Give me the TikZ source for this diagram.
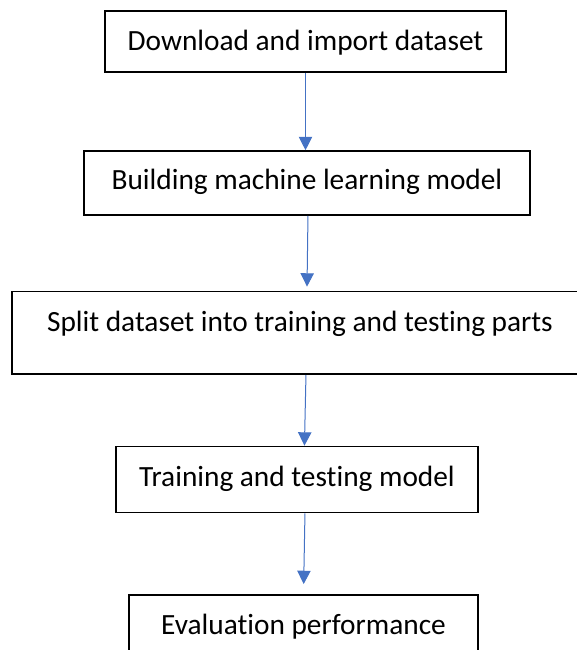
\documentclass[tikz,border=0pt]{standalone}
\usepackage{fontspec}
\setmainfont{Carlito}[Ligatures=NoCommon]
\usepackage{tikz}
\usetikzlibrary{arrows.meta, positioning}

\definecolor{officeblue}{RGB}{68,114,196}

\begin{document}
\begin{tikzpicture}[
    x=0.75pt, y=-0.75pt,
    procbox/.style={draw, line width=1.3pt, inner sep=0pt, text height=14.2pt, text depth=4.2pt, font=\fontsize{22}{26}\selectfont},
    flowline/.style={draw=officeblue, line width=0.75pt, -{Triangle[length=10pt, width=10pt]}}
]
\useasboundingbox (0,0) rectangle (576,650);

% Download step (top)
\node[procbox, text depth=0pt, minimum width=300.75pt, minimum height=45.75pt] (dl) at (305.5,41.5) {Download and import dataset};

% Model building
\node[procbox, minimum width=334.5pt, minimum height=48pt, below=58pt of dl, xshift=1.1pt] (build) {Building machine learning model};

% Split step - wide box, text sits high
\node[procbox, text depth=16.1pt, minimum width=432pt, minimum height=62pt, below=56pt of build, xshift=-5.25pt] (split) {Split dataset into training and testing parts};

% Training and testing
\node[procbox, text depth=3.7pt, minimum width=271.5pt, minimum height=49.5pt, below=53pt of split, xshift=-2.25pt] (train) {Training and testing model};

% Evaluation (bottom)
\node[procbox, minimum width=261.75pt, minimum height=49.5pt, below=60.5pt of train, xshift=4.9pt] (eval) {Evaluation performance};

% Flow arrows
\draw[flowline] (dl.south) -- ([xshift=-1.1pt]build.north);
\draw[flowline, shorten >=3pt] ([xshift=0.75pt]build.south) -- ([xshift=5.25pt]split.north);
\draw[flowline] ([xshift=4.5pt]split.south) -- ([xshift=5.6pt]train.north);
\draw[flowline, shorten >=7.5pt] ([xshift=6pt]train.south) -- (eval.north);

\end{tikzpicture}
\end{document}
